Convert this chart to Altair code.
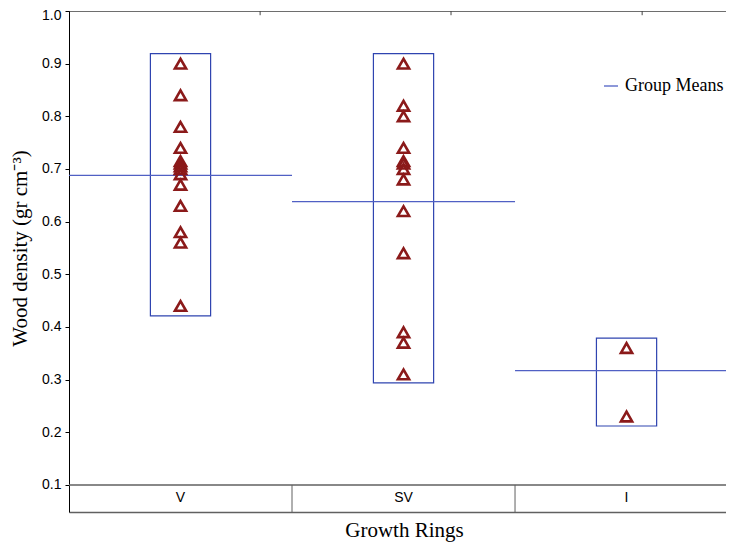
import altair as alt
import pandas as pd

# ---- data ----
groups = ["V", "SV", "I"]
v_density = [0.90, 0.84, 0.78, 0.74, 0.715, 0.71, 0.705, 0.70, 0.69, 0.67, 0.63, 0.58, 0.56, 0.44]
sv_density = [0.90, 0.82, 0.80, 0.74, 0.715, 0.71, 0.70, 0.68, 0.62, 0.54, 0.39, 0.37, 0.31]
i_density = [0.36, 0.23]
group_means = [0.688, 0.638, 0.317]
box_low = [0.421, 0.294, 0.212]
box_high = [0.919, 0.919, 0.379]
y_ticks = [0.1, 0.2, 0.3, 0.4, 0.5, 0.6, 0.7, 0.8, 0.9, 1.0]
top_ticks = [0.857, 1.713, 2.570]

# ---- layout / style constants ----
Y_MIN = 0.0487          # bottom of the category strip
X_MAX = 2.946           # visible part of the x range (reference is cut at right)
BOX_HALF = 0.135
TICK_LEN = 0.008
MEAN_BLUE = "#5060c4"
BOX_BLUE = "#2f44b0"
TRI_RED = "#8b1a1a"
STRIP_GRAY = "#606060"

pts = pd.DataFrame(
    [{"group": "V", "idx": 0, "value": v} for v in v_density]
    + [{"group": "SV", "idx": 1, "value": v} for v in sv_density]
    + [{"group": "I", "idx": 2, "value": v} for v in i_density]
)
grp = pd.DataFrame({
    "group": groups,
    "idx": list(range(len(groups))),
    "mean": group_means,
    "low": box_low,
    "high": box_high,
    "series": ["Group Means"] * len(groups),
})
ticks_df = pd.DataFrame({"t": top_ticks})

xs = alt.Scale(domain=[0, X_MAX], nice=False, zero=False)
ys = alt.Scale(domain=[Y_MIN, 1.0], nice=False, zero=False)

base_g = alt.Chart(grp).transform_calculate(
    x0="datum.idx", x1="datum.idx + 1", xc="datum.idx + 0.5",
    xb0="datum.idx + 0.5 - %f" % BOX_HALF, xb1="datum.idx + 0.5 + %f" % BOX_HALF,
)

# axes carrier (y axis and bottom line / x title)
axis_layer = alt.Chart(grp).mark_point(opacity=0).encode(
    x=alt.X("idx:Q", scale=xs, axis=alt.Axis(
        title="Growth Rings", labels=False, ticks=False, grid=False,
        domainColor=STRIP_GRAY, domainWidth=1.5,
        titleFont="Liberation Serif", titleFontSize=21, titleFontWeight="normal",
        titleColor="black", titleX=335, titleY=18, titleBaseline="middle",
        titleAlign="center")),
    y=alt.Y("mean:Q", scale=ys, axis=alt.Axis(
        title="Wood density (gr cm⁻³)", values=y_ticks, format=".1f", grid=False,
        tickSize=4, tickColor="black", domainColor="black", labelPadding=4,
        labelFont="Liberation Sans", labelFontSize=14, labelColor="black",
        labelOffset=alt.ExprRef("datum.value >= 1 ? 4 : 0"),
        titleFont="Liberation Serif", titleFontSize=21, titleFontWeight="normal",
        titleColor="black", titleX=-49, titleY=237, titleBaseline="middle",
        titleAlign="center", titleAngle=270)),
)

# strip top line at 0.1
strip_top = alt.Chart(pd.DataFrame({"y": [y_ticks[0]]})).mark_rule(
    color=STRIP_GRAY, strokeWidth=1.5, clip=True
).encode(x=alt.datum(0, scale=xs), x2=alt.datum(3), y=alt.Y("y:Q", scale=ys))

# dividers between categories
dividers = base_g.transform_filter("datum.idx > 0").mark_rule(
    color=STRIP_GRAY, strokeWidth=1
).encode(x=alt.X("x0:Q", scale=xs), y=alt.datum(Y_MIN, scale=ys), y2=alt.datum(y_ticks[0]))

# category labels
cat_labels = base_g.mark_text(
    font="Liberation Sans", fontSize=14, color="black", baseline="middle"
).encode(x=alt.X("xc:Q", scale=xs), y=alt.datum((Y_MIN + y_ticks[0]) / 2, scale=ys),
         text="group:N")

# top border and its inward ticks
top_border = alt.Chart(pd.DataFrame({"y": [y_ticks[-1]]})).mark_rule(
    color="black", strokeWidth=1.2, clip=True
).encode(x=alt.datum(0, scale=xs), x2=alt.datum(3), y=alt.Y("y:Q", scale=ys))
top_tick_marks = alt.Chart(ticks_df).mark_rule(color="#444444", strokeWidth=1).encode(
    x=alt.X("t:Q", scale=xs), y=alt.datum(y_ticks[-1], scale=ys),
    y2=alt.datum(y_ticks[-1] - TICK_LEN))

# boxes
boxes = base_g.mark_rect(fill=None, stroke=BOX_BLUE, strokeWidth=1.2).encode(
    x=alt.X("xb0:Q", scale=xs), x2="xb1:Q",
    y=alt.Y("low:Q", scale=ys), y2="high:Q")

# group mean lines
means = base_g.mark_rule(strokeWidth=1.3, clip=True).encode(
    x=alt.X("x0:Q", scale=xs), x2="x1:Q", y=alt.Y("mean:Q", scale=ys),
    color=alt.Color("series:N", scale=alt.Scale(domain=["Group Means"], range=[MEAN_BLUE]),
                    legend=alt.Legend(title=None, orient="none", legendX=533, legendY=66,
                                      symbolType="stroke", symbolSize=196,
                                      symbolStrokeWidth=1.3, padding=0, labelOffset=5,
                                      labelFont="Liberation Serif", labelFontSize=18,
                                      labelColor="black")))

# triangles
points = alt.Chart(pts).transform_calculate(xc="datum.idx + 0.5").mark_point(
    shape="triangle-up", filled=False, stroke=TRI_RED, strokeWidth=2.6, size=125, opacity=1
).encode(x=alt.X("xc:Q", scale=xs), y=alt.Y("value:Q", scale=ys))

chart = alt.layer(
    axis_layer, strip_top, dividers, cat_labels, top_border, top_tick_marks,
    boxes, means, points
).properties(
    width=657, height=501,
    autosize=alt.AutoSizeParams(type="none"),
    padding={"left": 61, "top": 3, "right": 0, "bottom": 31},
).configure_view(stroke=None).configure(background="white")

chart.save("out.html", embed_options={"renderer": "svg", "actions": False})
